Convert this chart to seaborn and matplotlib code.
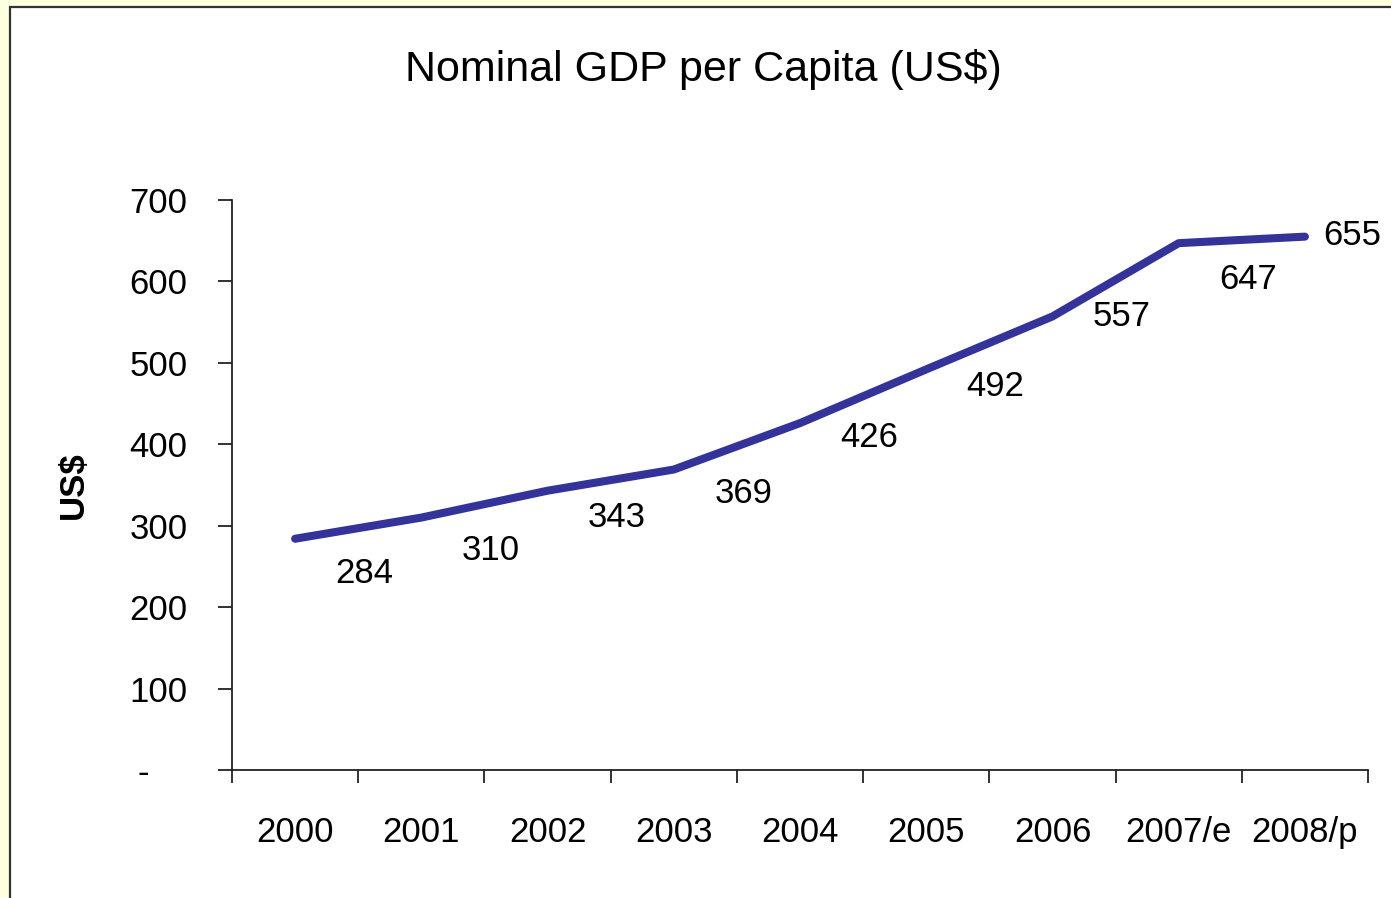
import numpy as np
import pandas as pd
import matplotlib
matplotlib.use("Agg")
import matplotlib.pyplot as plt
import matplotlib.transforms as mtrans
import seaborn as sns
from matplotlib.patches import Rectangle

# chart data
years = ["2000", "2001", "2002", "2003", "2004", "2005", "2006", "2007/e", "2008/p"]
gdp_per_capita = [284, 310, 343, 369, 426, 492, 557, 647, 655]
y_ticks = [0, 100, 200, 300, 400, 500, 600, 700]
y_tick_labels = ["-", "100", "200", "300", "400", "500", "600", "700"]

# label offsets in points (dx, dy) - placement only
label_dx = [50, 50, 50, 50, 50, 50, 50, 50, 34]
label_dy = [-25, -24, -19, -17, -10, -12, 0, -26, 1]

sns.set_theme(style="white")
plt.rcParams["font.family"] = ["Liberation Sans Narrow", "Liberation Sans", "DejaVu Sans"]

df = pd.DataFrame({"year": years, "gdp": gdp_per_capita})

fig = plt.figure(figsize=(13.91, 8.98), dpi=100, facecolor="#FFFFE1")
# white panel with dark frame, kept behind the axes
panel = Rectangle((9.5 / 1391, -0.05), 1.1, 1 - 6.5 / 898 + 0.05,
                  transform=fig.transFigure, facecolor="white",
                  edgecolor="#333333", linewidth=1.6, zorder=-10)
fig.patches.append(panel)

ax = fig.add_axes([232 / 1391, 1 - 770 / 898, 1136 / 1391, 570 / 898])
ax.set_facecolor("none")
ax.set_zorder(5)

sns.lineplot(data=df, x="year", y="gdp", color="#333399", linewidth=5.8,
             solid_capstyle="round", solid_joinstyle="round", ax=ax)

for i, v in enumerate(gdp_per_capita):
    ax.annotate(str(v), (i, v), xytext=(label_dx[i], label_dy[i]),
                textcoords="offset points", ha="center", va="center",
                fontsize=25, color="black")

ax.set_xlim(-0.5, len(years) - 0.5)
ax.set_ylim(0, 700)
ax.set_yticks(y_ticks)
ax.set_yticklabels(y_tick_labels)
ax.set_xticks(range(len(years)))
ax.set_xticklabels(years)
ax.set_xticks(np.arange(-0.5, len(years), 1.0), minor=True)

ax.tick_params(axis="x", which="major", length=0, pad=33, labelsize=25,
               labelcolor="black")
ax.tick_params(axis="x", which="minor", length=9, width=1.3, color="#222222",
               direction="out", bottom=True)
ax.tick_params(axis="y", length=10, width=1.3, color="#222222", direction="out",
               left=True, pad=22, labelsize=25, labelcolor="black")

# the zero label "-" sits further left, like an accounting format
zero_lbl = ax.get_yticklabels()[0]
zero_lbl.set_transform(zero_lbl.get_transform()
                       + mtrans.ScaledTranslation(-0.39, 0, fig.dpi_scale_trans))

for side in ["top", "right"]:
    ax.spines[side].set_visible(False)
for side in ["left", "bottom"]:
    ax.spines[side].set_color("#222222")
    ax.spines[side].set_linewidth(1.3)

ax.set_xlabel("")
ax.set_ylabel("US$", fontsize=25, fontweight="bold", color="black")
ax.yaxis.set_label_coords(-0.125, 0.5)

fig.text(703 / 1391, 1 - 70 / 898, "Nominal GDP per Capita (US$)",
         ha="center", va="center", fontsize=31, color="black")

fig.savefig("out.png", dpi=100, facecolor=fig.get_facecolor())
